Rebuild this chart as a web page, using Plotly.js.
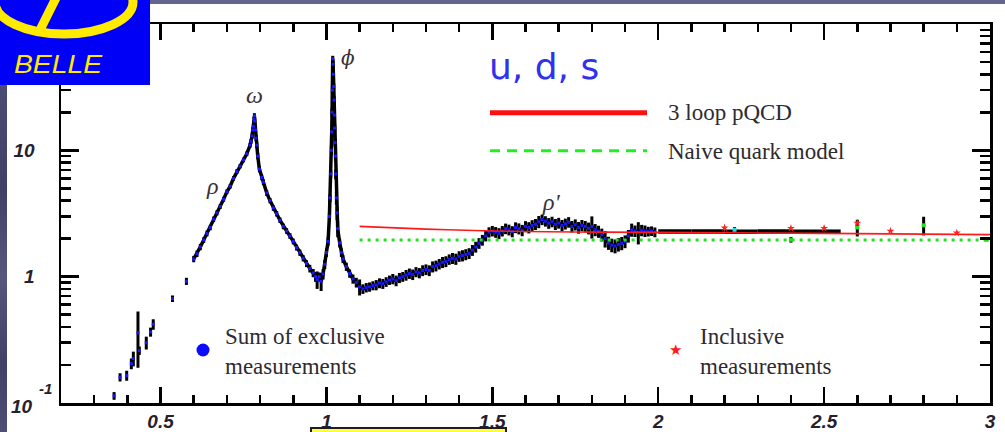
<!DOCTYPE html>
<html>
<head>
<meta charset="utf-8">
<script src="https://cdn.plot.ly/plotly-3.0.1.min.js"></script>
<style>
  html, body { margin: 0; padding: 0; background: #ffffff; }
  #page { position: relative; width: 1005px; height: 432px; overflow: hidden; background: #ffffff; }
  #chart { position: absolute; left: 0; top: 0; width: 1005px; height: 432px; }
  #topband { position: absolute; left: 150px; top: 0; width: 855px; height: 4px; background: #64668f; }
  #sideband { position: absolute; left: 0; top: 85px; width: 7px; height: 347px;
    background: linear-gradient(180deg, #4b4b74 0%, #3f3f68 30%, #56567f 55%, #404069 80%, #4d4d76 100%); }
  #logo { position: absolute; left: 0; top: 0; width: 150px; height: 85px; }
  #notebox { position: absolute; left: 310px; top: 427px; width: 193px; height: 12px;
    background: #ffff3c; border: 2px solid #1e1e1e; }
</style>
</head>
<body>
<div id="page">
  <div id="chart"></div>
  <div id="topband"></div>
  <div id="sideband"></div>
  <svg id="logo" viewBox="0 0 150 85" xmlns="http://www.w3.org/2000/svg">
    <defs><clipPath id="lc"><rect x="0" y="0" width="150" height="85"/></clipPath></defs>
    <rect x="0" y="0" width="150" height="85" fill="#0000f6"/>
    <g clip-path="url(#lc)">
      <ellipse cx="64" cy="2" rx="69" ry="32" fill="none" stroke="#ffea00" stroke-width="9"/>
      <line x1="57" y1="-4" x2="38" y2="34" stroke="#ffea00" stroke-width="9"/>
    </g>
    <text x="14" y="73" font-family="Liberation Sans, Arial, sans-serif" font-style="italic"
          font-size="26" fill="#ffea00" textLength="88" lengthAdjust="spacingAndGlyphs">BELLE</text>
  </svg>
  <div id="notebox"></div>
</div>
<script>
// Sum of exclusive channels: sqrt(s) in GeV, R and its uncertainty (rows line up across arrays)
const sqrtS = [
  0.360, 0.378, 0.398, 0.412, 0.418, 0.432, 0.436, 0.457, 0.470, 0.478, 0.536, 0.578,
  0.600, 0.610, 0.620, 0.630, 0.640, 0.650, 0.660, 0.670, 0.680, 0.690, 0.700, 0.710, 0.720, 0.730, 0.740, 0.750, 0.760,
  0.770, 0.773, 0.776, 0.778, 0.780, 0.782, 0.783, 0.784, 0.786, 0.788, 0.790, 0.793, 0.798,
  0.805, 0.810, 0.820, 0.830, 0.840, 0.850, 0.860, 0.870, 0.880, 0.890, 0.900, 0.910, 0.920, 0.930, 0.940, 0.950, 0.960, 0.967, 0.972, 0.978, 0.984, 0.990, 0.995,
  1.000, 1.005, 1.009, 1.011, 1.013, 1.015, 1.016, 1.017, 1.018, 1.019, 1.020, 1.021, 1.022, 1.023, 1.024, 1.025, 1.026, 1.027, 1.028, 1.030, 1.032, 1.034,
  1.040, 1.045, 1.050, 1.060, 1.070, 1.080, 1.090, 1.100,
  1.11, 1.12, 1.13, 1.14, 1.15, 1.16, 1.17, 1.18, 1.19, 1.20,
  1.21, 1.22, 1.23, 1.24, 1.25, 1.26, 1.27, 1.28, 1.29, 1.30,
  1.31, 1.32, 1.33, 1.34, 1.35, 1.36, 1.37, 1.38, 1.39, 1.40,
  1.41, 1.42, 1.43, 1.44, 1.45, 1.46, 1.47, 1.48, 1.49, 1.50,
  1.51, 1.52, 1.53, 1.54, 1.55, 1.56, 1.57, 1.58, 1.59, 1.60,
  1.61, 1.62, 1.63, 1.64, 1.65, 1.66, 1.67, 1.68, 1.69, 1.70,
  1.71, 1.72, 1.73, 1.74, 1.75, 1.76, 1.77, 1.78, 1.79, 1.80,
  1.81, 1.82, 1.83, 1.84, 1.85, 1.86, 1.87, 1.88, 1.89, 1.90,
  1.91, 1.92, 1.93, 1.94, 1.95, 1.96, 1.97, 1.98, 1.99
];
const rExcl = [
  0.114, 0.160, 0.165, 0.205, 0.225, 0.36, 0.26, 0.30, 0.365, 0.42, 0.67, 0.92,
  1.38, 1.52, 1.72, 1.95, 2.2, 2.45, 2.85, 3.2, 3.6, 4.1, 4.7, 5.2, 6.0, 6.8, 7.5, 8.4, 9.4,
  11.0, 11.8, 13.0, 14.5, 15.5, 17.5, 18.7, 17.0, 14.5, 12.5, 11.0, 9.0, 7.1,
  6.1, 5.6, 4.6, 4.0, 3.5, 3.15, 2.8, 2.5, 2.3, 2.1, 1.9, 1.7, 1.55, 1.4, 1.27, 1.16, 1.07, 1.0, 0.95, 1.0, 0.92, 1.05, 1.25,
  1.55, 1.9, 3.0, 4.2, 6.5, 10, 14, 20, 30, 53, 48, 40, 32, 25, 19, 15, 11.5, 9, 6.5, 4.2, 3.2, 2.4,
  1.85, 1.55, 1.38, 1.2, 1.06, 0.96, 0.9, 0.83,
  0.80, 0.82, 0.83, 0.85, 0.86, 0.89, 0.88, 0.91, 0.94, 0.96,
  0.93, 0.98, 1.00, 1.03, 1.06, 1.04, 1.09, 1.07, 1.12, 1.14,
  1.12, 1.20, 1.22, 1.26, 1.30, 1.32, 1.37, 1.40, 1.38, 1.45,
  1.47, 1.50, 1.53, 1.62, 1.72, 1.84, 1.95, 2.10, 2.25, 2.30,
  2.25, 2.20, 2.30, 2.40, 2.35, 2.28, 2.45, 2.40, 2.33, 2.50,
  2.45, 2.55, 2.60, 2.72, 2.83, 2.75, 2.65, 2.72, 2.60, 2.66,
  2.55, 2.62, 2.70, 2.50, 2.58, 2.45, 2.55, 2.50, 2.42, 2.50,
  2.35, 2.28, 2.15, 2.00, 1.85, 1.78, 1.75, 1.80, 1.84, 1.90,
  2.10, 2.35, 2.30, 2.25, 2.33, 2.30, 2.28, 2.30, 2.25
];
const rExclErr = [
  0.008, 0.012, 0.015, 0.02, 0.03, 0.17, 0.02, 0.035, 0.03, 0.04, 0.04, 0.06,
  0.08, 0.09, 0.1, 0.1, 0.12, 0.12, 0.14, 0.15, 0.16, 0.18, 0.2, 0.22, 0.25, 0.3, 0.3, 0.35, 0.4,
  0.5, 0.5, 0.6, 0.7, 0.8, 0.9, 1.0, 0.9, 0.8, 0.7, 0.6, 0.5, 0.4,
  0.3, 0.3, 0.25, 0.2, 0.18, 0.16, 0.14, 0.13, 0.12, 0.11, 0.1, 0.09, 0.09, 0.08, 0.08, 0.08, 0.08, 0.09, 0.15, 0.08, 0.15, 0.1, 0.1,
  0.12, 0.15, 0.2, 0.3, 0.5, 0.8, 1, 1.5, 2, 3, 3, 3, 2, 2, 1.5, 1, 0.8, 0.7, 0.6, 0.5, 0.4, 0.35,
  0.15, 0.12, 0.1, 0.09, 0.08, 0.08, 0.08, 0.12,
  0.07, 0.07, 0.07, 0.07, 0.08, 0.08, 0.08, 0.08, 0.08, 0.09,
  0.09, 0.09, 0.09, 0.1, 0.1, 0.1, 0.1, 0.1, 0.11, 0.11,
  0.11, 0.12, 0.12, 0.12, 0.13, 0.13, 0.13, 0.14, 0.14, 0.14,
  0.15, 0.15, 0.15, 0.16, 0.17, 0.18, 0.19, 0.2, 0.21, 0.22,
  0.22, 0.22, 0.22, 0.23, 0.23, 0.23, 0.24, 0.24, 0.24, 0.25,
  0.25, 0.25, 0.26, 0.3, 0.27, 0.26, 0.26, 0.26, 0.26, 0.26,
  0.26, 0.26, 0.26, 0.26, 0.26, 0.26, 0.26, 0.26, 0.26, 0.5,
  0.26, 0.25, 0.25, 0.3, 0.22, 0.22, 0.22, 0.22, 0.22, 0.22,
  0.24, 0.28, 0.24, 0.45, 0.24, 0.24, 0.2, 0.2, 0.2
];
// the first points (below 0.6 GeV) are isolated; the scan from 0.6 GeV on is continuous
const denseFrom = 12;

// Wide-bin exclusive results above 2 GeV (centre, half width, R)
const wideX = [2.05, 2.15, 2.25, 2.35, 2.45, 2.525];
const wideHalf = [0.05, 0.05, 0.05, 0.05, 0.05, 0.025];
const wideR = [2.28, 2.28, 2.27, 2.28, 2.27, 2.27];

// Single exclusive points above 2 GeV
const singleX = [2.23, 2.40, 2.60, 2.80, 2.99];
const singleR = [2.35, 1.96, 2.45, 2.55, 1.96];
const singleErr = [0.12, 0.1, 0.37, 0.43, 0.04];

// Inclusive measurements
const inclX = [2.2, 2.4, 2.5, 2.6, 2.7, 2.9];
const inclR = [2.44, 2.42, 2.42, 2.66, 2.3, 2.22];

// Theory curves
const qcdX = [1.1, 1.3, 1.5, 1.75, 2.0, 2.5, 3.0];
const qcdR = [2.5, 2.38, 2.3, 2.26, 2.24, 2.2, 2.15];
const nqmX = [1.1, 3.0];
const nqmR = [1.95, 1.95];

// Axis ticks
const xTickVals = [0.5, 1, 1.5, 2, 2.5, 3];
const xTickText = ['0.5', '1', '1.5', '2', '2.5', '3'];
const xMinorVals = [0.3, 0.4, 0.6, 0.7, 0.8, 0.9, 1.1, 1.2, 1.3, 1.4, 1.6, 1.7, 1.8, 1.9,
                    2.1, 2.2, 2.3, 2.4, 2.6, 2.7, 2.8, 2.9];
const yTickVals = [0.1, 1, 10, 100];
const yTickText = ['', '1', '10', ''];
const yMinorVals = [0.2, 0.3, 0.4, 0.5, 0.6, 0.7, 0.8, 0.9, 2, 3, 4, 5, 6, 7, 8, 9,
                    20, 30, 40, 50, 60, 70, 80, 90];

// Plot frame in page pixels, used to place the drawn legend and labels
const frame = { left: 61, right: 990, top: 24, bottom: 403 };
const W = 1005, H = 432;
const px = x => (x - frame.left) / (frame.right - frame.left);
const py = y => (frame.bottom - y) / (frame.bottom - frame.top);

const serif = 'Liberation Serif, Times New Roman, serif';
const textCol = '#2e2a30';
const greekCol = '#3a3036';

function label(text, x, y, font, extra) {
  return Object.assign({ text: text, xref: 'paper', yref: 'paper', x: px(x), y: py(y),
    xanchor: 'center', yanchor: 'middle', showarrow: false, font: font }, extra || {});
}

const traces = [
  // continuous scan drawn as a dark band under the points
  {
    x: sqrtS.slice(denseFrom), y: rExcl.slice(denseFrom), type: 'scatter', mode: 'lines',
    line: { color: '#000000', width: 3.5 }, hoverinfo: 'skip'
  },
  {
    x: sqrtS, y: rExcl, type: 'scatter', mode: 'markers', hoverinfo: 'x+y',
    marker: { symbol: 'square', size: 3, color: '#1818ff' },
    error_y: { type: 'data', array: rExclErr, visible: true, color: '#000000', thickness: 3, width: 0 }
  },
  {
    x: wideX, y: wideR, type: 'scatter', mode: 'markers',
    marker: { size: 2, color: '#000000' },
    error_x: { type: 'data', array: wideHalf, visible: true, color: '#000000', thickness: 4.5, width: 0 }
  },
  {
    x: singleX, y: singleR, type: 'scatter', mode: 'markers',
    marker: { symbol: 'square', size: 4, color: ['#22dddd', '#22dd22', '#22dd22', '#22dd22', '#22dd22'] },
    error_y: { type: 'data', array: singleErr, visible: true, color: '#000000', thickness: 3, width: 0 }
  },
  {
    x: qcdX, y: qcdR, type: 'scatter', mode: 'lines', line: { color: '#ff1a1a', width: 1.6, shape: 'spline' }
  },
  {
    x: nqmX, y: nqmR, type: 'scatter', mode: 'lines', line: { color: '#22e022', width: 3, dash: '3px,5px' }
  },
  {
    x: inclX, y: inclR, type: 'scatter', mode: 'markers',
    marker: { symbol: 'star', size: 6, color: '#ff2020' }
  }
];

const tickFont = { family: 'Liberation Sans, Arial, sans-serif', size: 19, color: '#25202c', weight: 'bold', style: 'italic' };
const decadeFont = { family: 'Liberation Sans, Arial, sans-serif', size: 19, color: '#25202c' };

const layout = {
  width: W, height: H,
  margin: { l: frame.left, r: W - frame.right, t: frame.top, b: H - frame.bottom, pad: 0 },
  paper_bgcolor: 'rgba(0,0,0,0)', plot_bgcolor: '#ffffff',
  showlegend: false,
  xaxis: {
    range: [0.2, 3], showgrid: false, zeroline: false,
    showline: true, linecolor: '#000000', linewidth: 2.5, mirror: 'ticks',
    ticks: 'inside', ticklen: 16, tickwidth: 2.5, tickcolor: '#000000',
    tickmode: 'array', tickvals: xTickVals, ticktext: xTickText,
    tickfont: tickFont, ticklabelstandoff: 0,
    minor: { tickmode: 'array', tickvals: xMinorVals, ticks: 'inside', ticklen: 8, tickwidth: 2.5, tickcolor: '#000000', showgrid: false }
  },
  yaxis: {
    type: 'log', range: [-1, 2], showgrid: false, zeroline: false,
    showline: true, linecolor: '#000000', linewidth: 2.5, mirror: 'ticks',
    ticks: 'inside', ticklen: 18, tickwidth: 2.5, tickcolor: '#000000',
    tickmode: 'array', tickvals: yTickVals, ticktext: yTickText,
    tickfont: tickFont, ticklabelstandoff: 20,
    minor: { tickmode: 'array', tickvals: yMinorVals, ticks: 'inside', ticklen: 10, tickwidth: 2.5, tickcolor: '#000000', showgrid: false }
  },
  shapes: [
    // legend line samples
    { type: 'line', xref: 'paper', yref: 'paper', x0: px(490), x1: px(647), y0: py(112.7), y1: py(112.7),
      line: { color: '#ff1010', width: 5 } },
    { type: 'line', xref: 'paper', yref: 'paper', x0: px(490), x1: px(647), y0: py(150.7), y1: py(150.7),
      line: { color: '#22ee22', width: 3, dash: '10px,7px' } },
    // blue dot symbol for the exclusive sum
    { type: 'circle', xref: 'paper', yref: 'paper', x0: px(196.5), x1: px(209.5), y0: py(343.5), y1: py(356.5),
      fillcolor: '#0a0aff', line: { width: 0 } }
  ],
  annotations: [
    label('u, d, s', 487, 66, { family: 'DejaVu Sans, sans-serif', size: 36, color: '#3030ee' }, { xanchor: 'left' }),
    label('3 loop pQCD', 666, 113, { family: serif, size: 23, color: textCol }, { xanchor: 'left' }),
    label('Naive quark model', 666, 151, { family: serif, size: 23, color: textCol }, { xanchor: 'left' }),
    label('Sum of exclusive<br>measurements', 223, 351, { family: serif, size: 23, color: textCol }, { xanchor: 'left', align: 'left' }),
    label('Inclusive<br>measurements', 698, 351, { family: serif, size: 23, color: textCol }, { xanchor: 'left', align: 'left' }),
    label('★', 675, 350, { family: 'DejaVu Sans, sans-serif', size: 15, color: '#ff1a1a' }),
    // resonance labels
    label('<i>ρ</i>', 212, 186, { family: serif, size: 24, color: greekCol }),
    label('<i>ω</i>', 254, 95, { family: serif, size: 24, color: greekCol }),
    label('<i>ϕ</i>', 348, 58, { family: 'DejaVu Serif, serif', size: 20, color: greekCol }),
    label("<i>ρ'</i>", 551, 202, { family: serif, size: 24, color: greekCol }),
    // bottom decade label, 10^-1
    label('<b><i>10</i></b>', 9, 406, decadeFont, { xanchor: 'left' }),
    label('<b><i>-1</i></b>', 37, 388, { family: 'Liberation Sans, Arial, sans-serif', size: 15, color: '#25202c' }, { xanchor: 'left' })
  ]
};

Plotly.newPlot('chart', traces, layout, { displayModeBar: false, staticPlot: true });
</script>
</body>
</html>
